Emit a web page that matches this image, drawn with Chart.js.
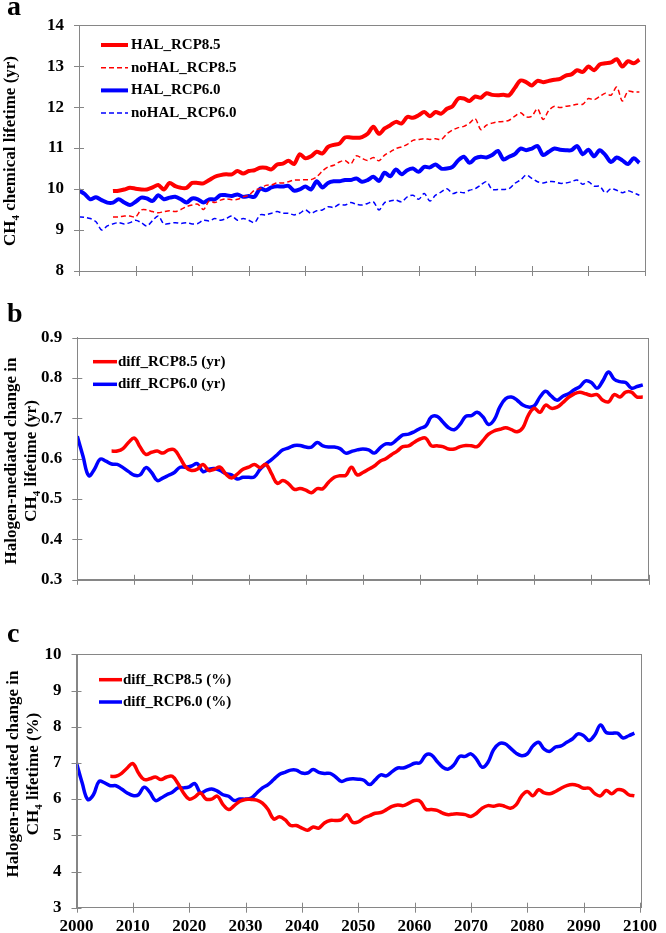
<!doctype html>
<html lang="en">
  <head>
    <meta charset="utf-8">
    <title>CH4 chemical lifetime</title>
    <style>
      * { margin: 0; padding: 0; }
      body { width: 666px; height: 933px; background: #fff; position: relative; overflow: hidden; }
      .panel { position: absolute; left: 0; width: 666px; }
      #boxA { top: 0; height: 300px; }
      #boxB { top: 300px; height: 305px; }
      #boxC { top: 605px; height: 328px; }
    </style>
  </head>
  <body>
    <div class="panel" id="boxA"><canvas id="chartA"></canvas></div>
    <div class="panel" id="boxB"><canvas id="chartB"></canvas></div>
    <div class="panel" id="boxC"><canvas id="chartC"></canvas></div>
    <script src="https://cdn.jsdelivr.net/npm/chart.js/dist/chart.umd.min.js"></script>
    <script>
    // data
    const years = [
      2000, 2001, 2002, 2003, 2004, 2005, 2006, 2007, 2008, 2009,
      2010, 2011, 2012, 2013, 2014, 2015, 2016, 2017, 2018, 2019,
      2020, 2021, 2022, 2023, 2024, 2025, 2026, 2027, 2028, 2029,
      2030, 2031, 2032, 2033, 2034, 2035, 2036, 2037, 2038, 2039,
      2040, 2041, 2042, 2043, 2044, 2045, 2046, 2047, 2048, 2049,
      2050, 2051, 2052, 2053, 2054, 2055, 2056, 2057, 2058, 2059,
      2060, 2061, 2062, 2063, 2064, 2065, 2066, 2067, 2068, 2069,
      2070, 2071, 2072, 2073, 2074, 2075, 2076, 2077, 2078, 2079,
      2080, 2081, 2082, 2083, 2084, 2085, 2086, 2087, 2088, 2089,
      2090, 2091, 2092, 2093, 2094, 2095, 2096, 2097, 2098, 2099
    ];
    const rcp85Start = 2006;   // RCP8.5 runs start here
    const rcp60Start = 2000;

    // panel a: lifetime (yr)
    const halRcp85 = [
      9.95, 9.96, 9.99, 10.03, 10.01, 9.99, 9.99, 10.04, 10.10, 9.99,
      10.15, 10.07, 10.03, 10.03, 10.15, 10.15, 10.14, 10.22, 10.30, 10.34,
      10.36, 10.36, 10.44, 10.38, 10.44, 10.46, 10.52, 10.52, 10.48, 10.60,
      10.62, 10.69, 10.61, 10.85, 10.75, 10.80, 10.91, 10.87, 11.03, 11.08,
      11.11, 11.26, 11.26, 11.25, 11.27, 11.35, 11.52, 11.35, 11.48, 11.56,
      11.64, 11.60, 11.76, 11.74, 11.80, 11.88, 11.78, 11.88, 11.84, 11.96,
      12.02, 12.21, 12.21, 12.15, 12.26, 12.23, 12.34, 12.30, 12.29, 12.30,
      12.29, 12.47, 12.65, 12.61, 12.53, 12.64, 12.61, 12.64, 12.67, 12.69,
      12.77, 12.80, 12.90, 12.86, 12.99, 12.90, 13.04, 13.07, 13.09, 13.17,
      12.99, 13.12, 13.07, 13.16
    ];
    const noHalRcp85 = [
      9.32, 9.32, 9.34, 9.34, 9.32, 9.49, 9.49, 9.45, 9.42, 9.45,
      9.47, 9.45, 9.50, 9.57, 9.61, 9.63, 9.50, 9.71, 9.67, 9.73,
      9.76, 9.74, 9.75, 9.81, 9.85, 9.97, 10.01, 10.09, 10.10, 10.15,
      10.15, 10.18, 10.22, 10.22, 10.23, 10.23, 10.30, 10.44, 10.54, 10.58,
      10.66, 10.70, 10.61, 10.81, 10.75, 10.70, 10.77, 10.69, 10.83, 10.91,
      10.99, 11.03, 11.09, 11.19, 11.21, 11.23, 11.21, 11.23, 11.21, 11.35,
      11.44, 11.50, 11.53, 11.61, 11.72, 11.45, 11.56, 11.61, 11.64, 11.65,
      11.68, 11.78, 11.86, 11.76, 11.78, 11.96, 11.70, 11.92, 12.02, 11.99,
      12.02, 12.04, 12.07, 12.07, 12.21, 12.18, 12.26, 12.34, 12.29, 12.49,
      12.15, 12.39, 12.37, 12.37
    ];
    const halRcp60 = [
      9.97, 9.88, 9.75, 9.80, 9.73, 9.67, 9.67, 9.75, 9.67, 9.61,
      9.69, 9.79, 9.77, 9.71, 9.85, 9.75, 9.79, 9.81, 9.75, 9.67,
      9.77, 9.75, 9.67, 9.75, 9.75, 9.85, 9.85, 9.83, 9.87, 9.81,
      9.83, 9.81, 10.01, 9.97, 10.04, 10.07, 10.06, 10.08, 9.96, 9.99,
      10.06, 9.99, 10.19, 10.04, 10.15, 10.19, 10.19, 10.22, 10.22, 10.26,
      10.18, 10.22, 10.30, 10.20, 10.40, 10.31, 10.48, 10.36, 10.46, 10.50,
      10.42, 10.54, 10.53, 10.60, 10.50, 10.50, 10.54, 10.70, 10.79, 10.64,
      10.75, 10.79, 10.77, 10.83, 10.93, 10.72, 10.79, 10.85, 10.99, 10.95,
      10.99, 11.05, 10.83, 10.91, 10.99, 10.96, 10.95, 10.95, 11.05, 10.85,
      10.96, 10.80, 10.95, 10.83, 10.66, 10.77, 10.70, 10.61, 10.75, 10.64
    ];
    const noHalRcp60 = [
      9.32, 9.31, 9.28, 9.20, 9.00, 9.10, 9.15, 9.18, 9.15, 9.18,
      9.24, 9.18, 9.10, 9.23, 9.34, 9.15, 9.16, 9.18, 9.16, 9.18,
      9.15, 9.16, 9.24, 9.22, 9.28, 9.24, 9.28, 9.34, 9.24, 9.28,
      9.24, 9.18, 9.37, 9.37, 9.41, 9.45, 9.41, 9.41, 9.37, 9.41,
      9.49, 9.41, 9.47, 9.49, 9.57, 9.55, 9.63, 9.61, 9.67, 9.63,
      9.61, 9.65, 9.69, 9.49, 9.67, 9.71, 9.73, 9.69, 9.81, 9.85,
      9.75, 9.89, 9.71, 9.85, 9.93, 10.01, 9.89, 9.93, 9.91, 9.97,
      10.01, 10.10, 10.18, 9.99, 9.99, 9.99, 10.01, 10.14, 10.22, 10.34,
      10.26, 10.18, 10.15, 10.18, 10.18, 10.14, 10.15, 10.18, 10.22, 10.12,
      10.18, 10.07, 10.07, 9.91, 10.01, 9.97, 9.91, 9.96, 9.91, 9.85
    ];

    // panel b: difference (yr)
    const diffRcp85Yr = [
      0.619, 0.619, 0.625, 0.641, 0.651, 0.629, 0.611, 0.616, 0.619, 0.614,
      0.622, 0.622, 0.602, 0.579, 0.571, 0.574, 0.586, 0.571, 0.574, 0.579,
      0.562, 0.552, 0.562, 0.574, 0.579, 0.586, 0.578, 0.586, 0.563, 0.539,
      0.546, 0.538, 0.524, 0.526, 0.522, 0.516, 0.526, 0.526, 0.542, 0.554,
      0.558, 0.559, 0.579, 0.560, 0.566, 0.574, 0.582, 0.594, 0.600, 0.610,
      0.619, 0.630, 0.632, 0.641, 0.649, 0.651, 0.632, 0.632, 0.630, 0.624,
      0.624, 0.630, 0.633, 0.632, 0.630, 0.645, 0.661, 0.669, 0.673, 0.677,
      0.672, 0.667, 0.677, 0.709, 0.725, 0.715, 0.733, 0.725, 0.728, 0.739,
      0.752, 0.761, 0.765, 0.761, 0.757, 0.759, 0.745, 0.741, 0.759, 0.753,
      0.765, 0.765, 0.753, 0.753
    ];
    const diffRcp60Yr = [
      0.656, 0.606, 0.558, 0.574, 0.599, 0.594, 0.587, 0.586, 0.578, 0.568,
      0.559, 0.560, 0.578, 0.566, 0.546, 0.552, 0.559, 0.566, 0.579, 0.579,
      0.582, 0.588, 0.568, 0.574, 0.576, 0.571, 0.563, 0.560, 0.550, 0.554,
      0.554, 0.555, 0.574, 0.587, 0.598, 0.610, 0.622, 0.627, 0.633, 0.633,
      0.629, 0.629, 0.640, 0.632, 0.629, 0.629, 0.625, 0.614, 0.618, 0.622,
      0.624, 0.622, 0.614, 0.627, 0.637, 0.637, 0.648, 0.659, 0.661, 0.667,
      0.675, 0.681, 0.704, 0.705, 0.691, 0.677, 0.672, 0.685, 0.705, 0.707,
      0.715, 0.704, 0.685, 0.697, 0.729, 0.749, 0.753, 0.745, 0.733, 0.728,
      0.731, 0.753, 0.767, 0.755, 0.745, 0.755, 0.761, 0.771, 0.779, 0.793,
      0.789, 0.775, 0.793, 0.815, 0.797, 0.791, 0.789, 0.775, 0.779, 0.783
    ];

    // panel c: difference (%)
    const diffRcp85Pct = [
      6.63, 6.63, 6.71, 6.86, 6.98, 6.72, 6.54, 6.56, 6.61, 6.54,
      6.61, 6.63, 6.43, 6.17, 6.00, 6.06, 6.17, 6.00, 6.00, 6.08,
      5.85, 5.71, 5.82, 5.94, 5.99, 5.99, 5.97, 5.89, 5.71, 5.45,
      5.51, 5.43, 5.27, 5.27, 5.20, 5.14, 5.23, 5.20, 5.34, 5.41,
      5.41, 5.43, 5.57, 5.36, 5.37, 5.48, 5.54, 5.61, 5.63, 5.71,
      5.80, 5.84, 5.82, 5.89, 5.96, 5.94, 5.72, 5.71, 5.69, 5.61,
      5.57, 5.59, 5.59, 5.57, 5.52, 5.61, 5.75, 5.82, 5.80, 5.84,
      5.80, 5.75, 5.84, 6.09, 6.21, 6.09, 6.26, 6.17, 6.15, 6.21,
      6.30, 6.37, 6.40, 6.37, 6.30, 6.30, 6.15, 6.09, 6.24, 6.15,
      6.26, 6.24, 6.12, 6.09
    ];
    const diffRcp60Pct = [
      7.00, 6.45, 5.99, 6.12, 6.49, 6.45, 6.37, 6.37, 6.28, 6.17,
      6.10, 6.12, 6.33, 6.19, 5.96, 6.03, 6.12, 6.19, 6.31, 6.31,
      6.34, 6.43, 6.17, 6.24, 6.28, 6.22, 6.12, 6.08, 5.96, 6.00,
      6.00, 6.03, 6.17, 6.31, 6.40, 6.54, 6.68, 6.74, 6.80, 6.80,
      6.72, 6.72, 6.82, 6.74, 6.71, 6.71, 6.61, 6.49, 6.54, 6.56,
      6.55, 6.52, 6.40, 6.53, 6.67, 6.64, 6.76, 6.86, 6.86, 6.92,
      6.99, 7.01, 7.22, 7.22, 7.04, 6.88, 6.83, 6.95, 7.18, 7.18,
      7.25, 7.10, 6.88, 7.01, 7.36, 7.53, 7.53, 7.41, 7.27, 7.20,
      7.25, 7.47, 7.57, 7.38, 7.32, 7.44, 7.47, 7.57, 7.66, 7.80,
      7.75, 7.62, 7.78, 8.05, 7.84, 7.82, 7.82, 7.69, 7.75, 7.82
    ];

    const FONT = 'Liberation Serif';
    const AXIS_GREY = '#868686';
    const RED = '#ff0000';
    const BLUE = '#0000ff';

    // pair values with years, starting at the run's first year
    function toPoints(values, firstYear) {
      const start = years.indexOf(firstYear);
      return values.map((v, i) => ({ x: years[start + i], y: v }));
    }

    // panel letter, y-axis title (with CH4 subscript), frame, crossing ticks, legend
    const panelDecor = {
      id: 'panelDecor',
      afterDraw(chart, args, opts) {
        const { ctx, chartArea: { top, bottom, left, right }, scales: { x, y } } = chart;
        ctx.save();

        // frame
        ctx.strokeStyle = AXIS_GREY;
        ctx.lineWidth = 1;
        ctx.strokeRect(Math.round(left) + 0.5, Math.round(top) + 0.5,
          Math.round(right - left), Math.round(bottom - top));

        // tick marks crossing the axes
        ctx.beginPath();
        x.ticks.forEach((t, i) => {
          const px = Math.round(x.getPixelForTick(i)) + 0.5;
          ctx.moveTo(px, bottom - 5);
          ctx.lineTo(px, bottom + 5);
        });
        y.ticks.forEach((t, i) => {
          const py = Math.round(y.getPixelForTick(i)) + 0.5;
          ctx.moveTo(left - 5, py);
          ctx.lineTo(left + 5, py);
        });
        ctx.stroke();

        // panel letter
        ctx.fillStyle = '#000';
        ctx.font = `bold 28px ${FONT}`;
        ctx.textBaseline = 'alphabetic';
        ctx.textAlign = 'left';
        ctx.fillText(opts.letter, 7, opts.letterY);

        // y-axis title, parts with odd index are subscripts
        const mid = opts.titleMid;
        opts.title.forEach((parts, li) => {
          ctx.save();
          ctx.translate(opts.titleX[li], mid);
          ctx.rotate(-Math.PI / 2);
          let total = 0;
          const widths = parts.map((p, i) => {
            ctx.font = i % 2 ? `bold 11px ${FONT}` : `bold 17px ${FONT}`;
            const w = ctx.measureText(p).width;
            total += w;
            return w;
          });
          let cx = -total / 2;
          parts.forEach((p, i) => {
            ctx.font = i % 2 ? `bold 11px ${FONT}` : `bold 17px ${FONT}`;
            ctx.fillText(p, cx, i % 2 ? 4 : 0);
            cx += widths[i];
          });
          ctx.restore();
        });

        // legend inside the plot
        const lg = opts.legend;
        ctx.font = `bold 15px ${FONT}`;
        ctx.textBaseline = 'middle';
        chart.data.datasets.forEach((ds, i) => {
          const ly = lg.y + i * lg.step;
          ctx.beginPath();
          ctx.strokeStyle = ds.borderColor;
          ctx.lineWidth = ds.borderWidth;
          ctx.setLineDash(ds.borderDash || []);
          ctx.moveTo(lg.x0, ly);
          ctx.lineTo(lg.x1, ly);
          ctx.stroke();
          ctx.setLineDash([]);
          ctx.fillStyle = '#000';
          ctx.fillText(ds.label, lg.tx, ly);
        });
        ctx.restore();
      }
    };

    function makePanel(id, cfg) {
      const tickFont = { family: FONT, weight: 'bold', size: 17 };
      return new Chart(document.getElementById(id), {
        type: 'line',
        data: { datasets: cfg.datasets },
        options: {
          animation: false,
          responsive: true,
          maintainAspectRatio: false,
          events: [],
          layout: {
            autoPadding: false,
            padding: { top: cfg.box.top, right: 666 - cfg.box.right, left: 0, bottom: 0 }
          },
          elements: { point: { radius: 0 } },
          scales: {
            x: {
              type: 'linear',
              min: 2000,
              max: 2100,
              grid: { display: false, drawTicks: false },
              border: { display: true, color: AXIS_GREY, width: 1 },
              ticks: {
                stepSize: 10,
                display: cfg.xLabels,
                color: '#000',
                font: tickFont,
                padding: 9,
                maxRotation: 0,
                callback: (v) => String(v)
              },
              afterFit: (s) => { s.height = cfg.height - cfg.box.bottom; }
            },
            y: {
              min: cfg.yMin,
              max: cfg.yMax,
              grid: { display: false, drawTicks: false },
              border: { display: true, color: AXIS_GREY, width: 1 },
              ticks: {
                stepSize: cfg.yStep,
                color: '#000',
                font: tickFont,
                padding: 15,
                callback: (v) => v.toFixed(cfg.yDecimals)
              },
              afterFit: (s) => { s.width = cfg.box.left; }
            }
          },
          plugins: {
            legend: { display: false },
            tooltip: { enabled: false },
            panelDecor: cfg.decor
          }
        },
        plugins: [panelDecor]
      });
    }

    makePanel('chartA', {
      height: 300,
      box: { left: 79, right: 645, top: 24.7, bottom: 271 },
      yMin: 8, yMax: 14, yStep: 1, yDecimals: 0, xLabels: false,
      datasets: [
        { label: 'HAL_RCP8.5', data: toPoints(halRcp85, rcp85Start), borderColor: RED, borderWidth: 4, tension: 0.3 },
        { label: 'noHAL_RCP8.5', data: toPoints(noHalRcp85, rcp85Start), borderColor: RED, borderWidth: 1.5, borderDash: [5, 3], tension: 0.3 },
        { label: 'HAL_RCP6.0', data: toPoints(halRcp60, rcp60Start), borderColor: BLUE, borderWidth: 4, tension: 0.3 },
        { label: 'noHAL_RCP6.0', data: toPoints(noHalRcp60, rcp60Start), borderColor: BLUE, borderWidth: 1.5, borderDash: [5, 3], tension: 0.3 }
      ],
      decor: {
        letter: 'a', letterY: 15,
        title: [['CH', '4', ' chemical lifetime (yr)']],
        titleX: [14.6], titleMid: 151,
        legend: { x0: 101, x1: 128, tx: 131, y: 45, step: 22.7 }
      }
    });

    makePanel('chartB', {
      height: 305,
      box: { left: 77.3, right: 648.5, top: 37.7, bottom: 291 },
      yMin: 0.3, yMax: 0.9, yStep: 0.1, yDecimals: 1, xLabels: false,
      datasets: [
        { label: 'diff_RCP8.5 (yr)', data: toPoints(diffRcp85Yr, rcp85Start), borderColor: RED, borderWidth: 3.5, tension: 0.4 },
        { label: 'diff_RCP6.0 (yr)', data: toPoints(diffRcp60Yr, rcp60Start), borderColor: BLUE, borderWidth: 3.5, tension: 0.4 }
      ],
      decor: {
        letter: 'b', letterY: 22,
        title: [['Halogen-mediated change in'], ['CH', '4', ' lifetime (yr)']],
        titleX: [16, 36], titleMid: 161,
        legend: { x0: 93, x1: 117, tx: 118, y: 61.7, step: 22.6 }
      }
    });

    makePanel('chartC', {
      height: 328,
      box: { left: 76.5, right: 649, top: 49.3, bottom: 302.7 },
      yMin: 3, yMax: 10, yStep: 1, yDecimals: 0, xLabels: true,
      datasets: [
        { label: 'diff_RCP8.5 (%)', data: toPoints(diffRcp85Pct, rcp85Start), borderColor: RED, borderWidth: 3.5, tension: 0.4 },
        { label: 'diff_RCP6.0 (%)', data: toPoints(diffRcp60Pct, rcp60Start), borderColor: BLUE, borderWidth: 3.5, tension: 0.4 }
      ],
      decor: {
        letter: 'c', letterY: 37,
        title: [['Halogen-mediated change in'], ['CH', '4', ' lifetime (%)']],
        titleX: [18.3, 37.5], titleMid: 169,
        legend: { x0: 99, x1: 122, tx: 123, y: 74.7, step: 22.3 }
      }
    });
    </script>
  </body>
</html>
